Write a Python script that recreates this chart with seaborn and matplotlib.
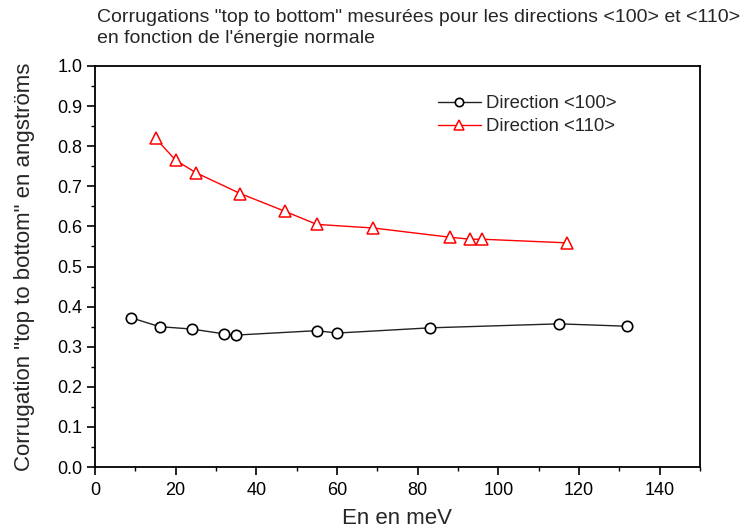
import matplotlib
matplotlib.use("Agg")
import matplotlib.pyplot as plt
import seaborn as sns
import pandas as pd
from matplotlib.ticker import MultipleLocator

sns.set_theme(style="white")
plt.rcParams['font.family'] = ['Liberation Sans', 'DejaVu Sans']

x_100 = [9, 16, 24, 32, 35, 55, 60, 83, 115, 132]
y_100 = [0.372, 0.350, 0.344, 0.332, 0.329, 0.340, 0.334, 0.347, 0.357, 0.351]
x_110 = [15, 20, 25, 36, 47, 55, 69, 88, 93, 96, 117]
y_110 = [0.820, 0.765, 0.734, 0.682, 0.638, 0.605, 0.596, 0.573, 0.568, 0.568, 0.559]
labels = ["Direction <100>", "Direction <110>"]
title = 'Corrugations "top to bottom" mesurées pour les directions <100> et <110>\nen fonction de l\'énergie normale'
xlabel = "En en meV"
ylabel = 'Corrugation "top to bottom" en angströms'

df100 = pd.DataFrame({"x": x_100, "y": y_100})
df110 = pd.DataFrame({"x": x_110, "y": y_110})

fig = plt.figure(figsize=(7.46, 5.31), dpi=100)
ax = fig.add_axes([95/746, 1 - 467/531, (700-95)/746, (467-66)/531])

sns.lineplot(data=df100, x="x", y="y", ax=ax, color="#222222", lw=1.0,
             marker="o", markersize=7.5, markerfacecolor="white",
             markeredgecolor="black", markeredgewidth=1.2, label=labels[0],
             sort=False)
sns.lineplot(data=df110, x="x", y="y", ax=ax, color="#ff0000", lw=1.0,
             marker="^", markersize=8.5, markerfacecolor="white",
             markeredgecolor="#ff0000", markeredgewidth=1.1, label=labels[1],
             sort=False)

ax.set_xlim(0, 150)
ax.set_ylim(0, 1.0)
ax.set_xticks([0, 20, 40, 60, 80, 100, 120, 140])
ax.set_yticks([i / 10 for i in range(11)])
ax.set_yticklabels([f"{i/10:.1f}" for i in range(11)])
ax.xaxis.set_minor_locator(MultipleLocator(10))
ax.yaxis.set_minor_locator(MultipleLocator(0.05))

for s in ax.spines.values():
    s.set_color("black")
    s.set_linewidth(1.3)

ax.tick_params(axis="both", which="major", direction="out", length=6, width=1.2,
               colors="black", labelsize=13, bottom=True, left=True,
               top=False, right=False, pad=3)
ax.tick_params(axis="x", which="major", pad=5)
ax.tick_params(axis="both", which="minor", direction="out", length=3, width=1.0,
               colors="black", bottom=True, left=True, top=False, right=False)

ax.set_xlabel(xlabel, fontsize=16, labelpad=6)
ax.set_ylabel(ylabel, fontsize=16, labelpad=16)

fig.text(97/746, 1 - 9/531, title, ha="left", va="top", fontsize=14, linespacing=1.3)

leg = ax.legend(loc="upper left", bbox_to_anchor=(0.555, 0.945), frameon=False,
                fontsize=13.3, handlelength=2.3, handletextpad=0.3, labelspacing=0.3,
                borderaxespad=0, markerscale=0.8)

fig.savefig("out.png", dpi=100)
